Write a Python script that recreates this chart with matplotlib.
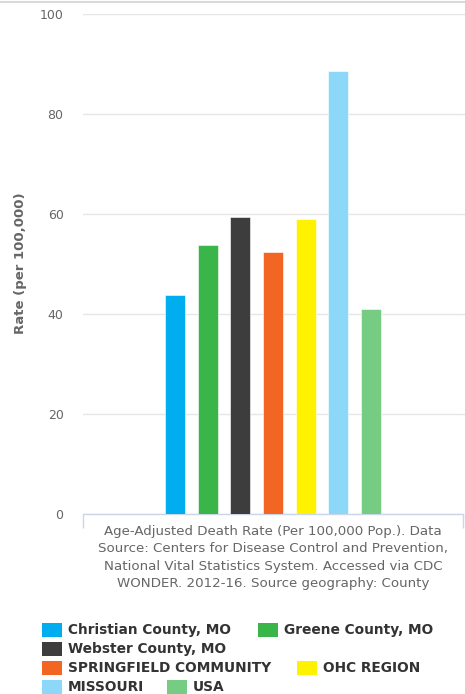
import matplotlib
matplotlib.use("Agg")
import matplotlib.pyplot as plt
from matplotlib.patches import Rectangle

series = ["Christian County, MO", "Greene County, MO", "Webster County, MO",
          "SPRINGFIELD COMMUNITY", "OHC REGION", "MISSOURI", "USA"]
values = [43.8, 53.9, 59.4, 52.4, 59.1, 88.7, 41.1]
colors = ["#00AEEF", "#39B54A", "#3D3D3D", "#F26522", "#FFF200", "#8DD8F8", "#77CC84"]
yticks = [0, 20, 40, 60, 80, 100]
caption = ("Age-Adjusted Death Rate (Per 100,000 Pop.). Data\n"
           "Source: Centers for Disease Control and Prevention,\n"
           "National Vital Statistics System. Accessed via CDC\n"
           "WONDER. 2012-16. Source geography: County")

W, H = 465, 694
fig = plt.figure(figsize=(W / 100, H / 100), dpi=100)
fig.patch.set_facecolor("white")

# plot area: x 83..463 px, y 14..514 px
ax = fig.add_axes([83 / W, (H - 514) / H, (463 - 83) / W, (514 - 14) / H])
ax.set_xlim(-0.5, 0.5)
ax.set_ylim(0, 100)

step = 32.7 / 380
bw = 20 / 380
n = len(values)
for i, (v, c) in enumerate(zip(values, colors)):
    x = (i - (n - 1) / 2) * step
    ax.bar(x, v, width=bw, color=c, edgecolor="white", linewidth=0.4, zorder=3)

for s in ["top", "right", "left"]:
    ax.spines[s].set_visible(False)
ax.spines["bottom"].set_color("#ccd6eb")
ax.spines["bottom"].set_linewidth(1)

ax.set_yticks(yticks)
ax.set_yticklabels([str(t) for t in yticks], fontsize=9.0, color="#666666")
ax.tick_params(axis="y", length=0, pad=14)
ax.grid(axis="y", color="#e6e6e6", linewidth=1, zorder=0)
ax.set_axisbelow(True)

ax.set_xticks([-0.5, 0.5])
ax.set_xticklabels(["", ""])
ax.tick_params(axis="x", length=10, color="#ccd6eb", width=1)

# gridlines extend to image edge
for t in yticks[1:]:
    y = 514 - t * 5
    fig.add_artist(plt.Line2D([463 / W, 1.0], [(H - y) / H] * 2, color="#e6e6e6", lw=1))

fig.text(21 / W, (H - 263) / H, "Rate (per 100,000)", rotation=90, ha="center", va="center",
         fontsize=9.5, fontweight="bold", color="#666666")

fig.text(273 / W, (H - 525) / H, caption, ha="center", va="top",
         fontsize=9.6, color="#666666", linespacing=1.43)

# top border line
fig.add_artist(plt.Line2D([0, 1], [1 - 1.5 / H] * 2, color="#d9d9d9", lw=1.5))

# legend
legend_pos = [(42, 630), (258, 630), (42, 649), (42, 668), (297, 668), (42, 687), (167, 687)]
for (lx, ly), name, c in zip(legend_pos, series, colors):
    fig.add_artist(Rectangle((lx / W, (H - ly - 7) / H), 20 / W, 14 / H,
                             transform=fig.transFigure, facecolor=c, edgecolor="none"))
    fig.text((lx + 26) / W, (H - ly) / H, name, ha="left", va="center",
             fontsize=9.9, fontweight="bold", color="#333333")

fig.savefig("out.png", dpi=100, facecolor="white")
